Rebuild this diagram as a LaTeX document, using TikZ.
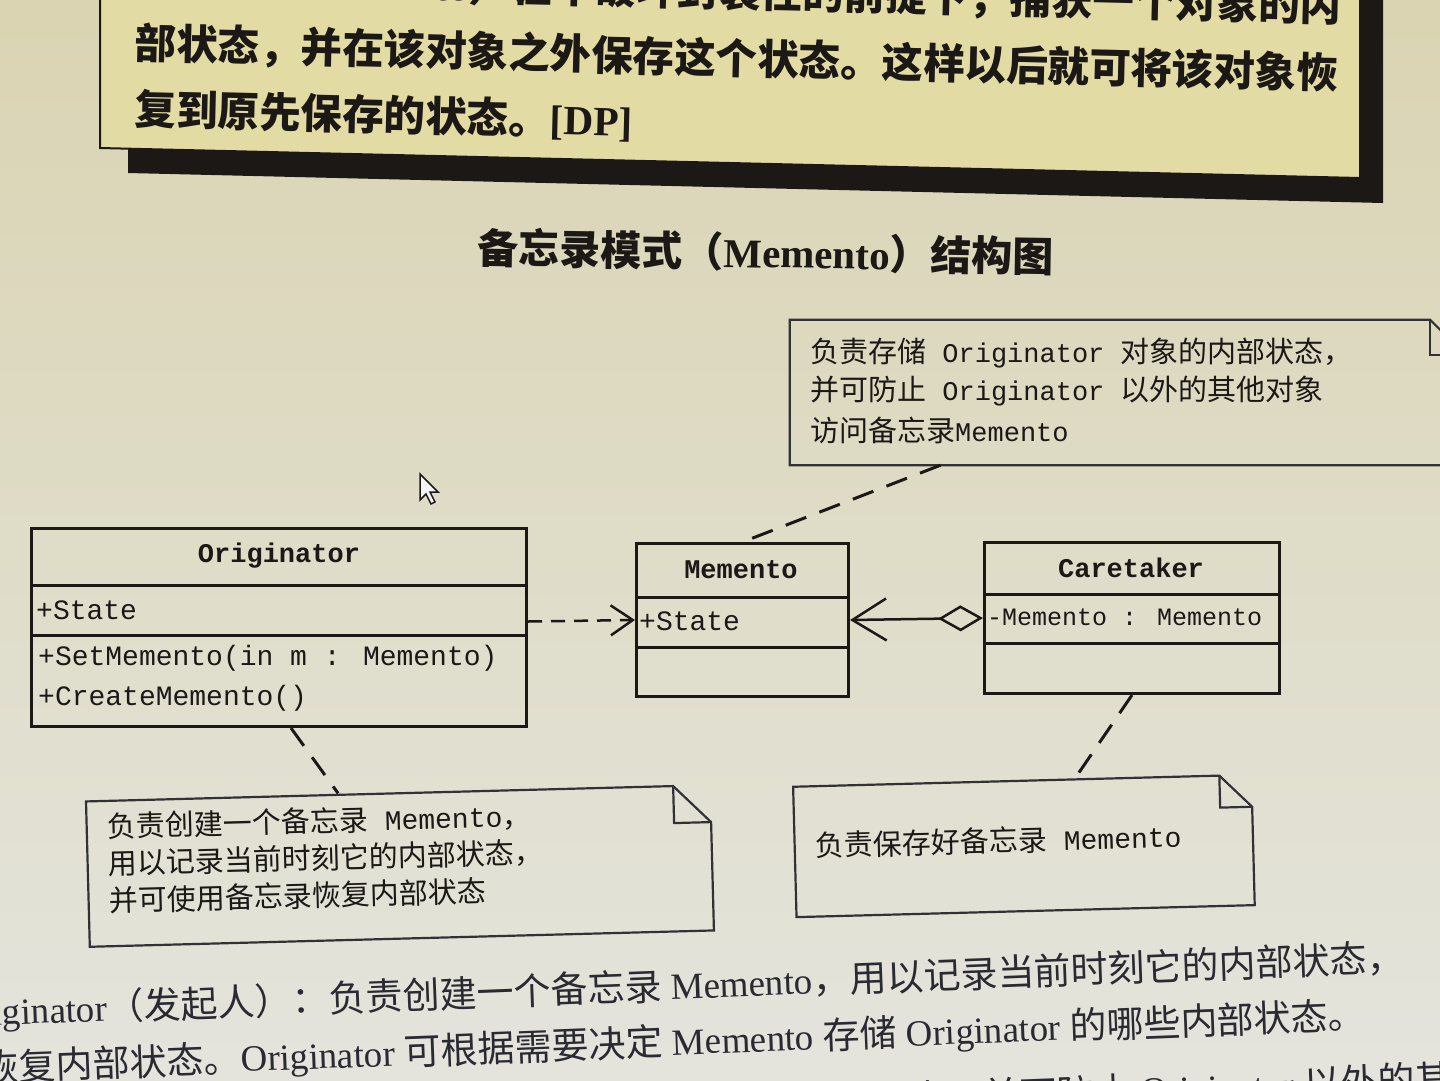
\documentclass[tikz,border=0pt]{standalone}
\usepackage{fontspec}
\setmainfont{Noto Sans CJK SC}
\newfontfamily\um{Liberation Mono}
\newfontfamily\tnr{Liberation Serif}
\usetikzlibrary{arrows.meta}
\definecolor{ink}{RGB}{28,24,22}
\definecolor{bgtop}{RGB}{218,212,178}
\definecolor{bgmid}{RGB}{226,226,210}
\definecolor{bgbot}{RGB}{228,228,221}
\definecolor{boxfill}{RGB}{226,219,164}
\definecolor{noteink}{RGB}{50,50,54}
\definecolor{bodyink}{RGB}{42,42,50}
\newcommand\sz[1]{\fontsize{#1}{#1}\selectfont}
\newcommand\drawnote[2]{%
  \draw[noteline] (#1.north west) -- ([xshift=-#2]#1.north east) -- ([yshift=-#2]#1.north east) -- (#1.south east) -- (#1.south west) -- cycle;
  \draw[noteline] ([xshift=-#2]#1.north east) -- ([xshift=-#2,yshift=-#2]#1.north east) -- ([yshift=-#2]#1.north east);}
\begin{document}
\begin{tikzpicture}[x=1pt,y=-1pt,
  classbox/.style={draw=ink, line width=3pt, inner sep=0pt},
  classline/.style={draw=ink, line width=3pt},
  umltext/.style={inner sep=0pt, text=ink, font=\um\sz{28}},
  umlname/.style={inner sep=0pt, text=ink, font=\um\bfseries\sz{27}},
  notebox/.style={inner sep=0pt},
  noteline/.style={draw=noteink, line width=2.2pt, line join=miter},
  notetext/.style={inner sep=0pt, anchor=west, text=ink, font=\sz{29}},
  notelink/.style={draw=ink, line width=3pt, dash pattern=on 22pt off 14pt},
  deparrow/.style={draw=ink, line width=2.5pt, dash pattern=on 14pt off 9pt, -{Straight Barb[length=22pt,width=30pt]}},
  aggline/.style={draw=ink, line width=2.5pt, {Diamond[open,length=45pt,width=26pt]}-{Straight Barb[length=34pt,width=42pt]}},
  deftext/.style={inner sep=0pt, text=ink, font=\bfseries\sz{41.5}},
  titletext/.style={inner sep=0pt, text=ink, font=\bfseries\sz{41}},
  bodytext/.style={inner sep=0pt, text=bodyink, font=\sz{37}}]
\clip (0,0) rectangle (1440,1080);
\shade[top color=bgtop, middle color=bgmid, bottom color=bgbot] (0,0) rectangle (1440,1080);

% definition box with shadow
\fill[ink] (128,-20) -- (1383,-20) -- (1383,203) -- (128,173) -- cycle;
\filldraw[fill=boxfill, draw=ink, line width=2pt] (100,-20) -- (1360,-20) -- (1360,178) -- (100,148) -- cycle;
\node[deftext, anchor=west, rotate=-1.4] (d1a) at (135,-23) {备忘录（{\tnr\bfseries Memento}）：};
\node[deftext, anchor=east, rotate=-1.4] (d1b) at (1342,7) {在不破坏封装性的前提下，捕获一个对象的内};
\node[deftext, anchor=west, rotate=-1.4] (d2) at (135,44) {部状态，并在该对象之外保存这个状态。这样以后就可将该对象恢};
\node[deftext, anchor=west, rotate=-1.4] (d3) at (135,109) {复到原先保存的状态。{\tnr\bfseries [DP]}};

% title
\node[titletext, rotate=-0.9] (title) at (766,252) {备忘录模式（{\tnr\bfseries Memento}）结构图};

% note 1
\node[notebox, minimum width=675pt, minimum height=145pt] (note1) at (1127.5,392.5) {};
\drawnote{note1}{35pt}
\node[notetext] (n1a) at (810,353) {负责存储{\um\sz{27}\ Originator\ }对象的内部状态，};
\node[notetext] (n1b) at (810,391) {并可防止{\um\sz{27}\ Originator\ }以外的其他对象};
\node[notetext] (n1c) at (810,430) {访问备忘录{\um\sz{27}Memento}};

% Originator class
\node[classbox, minimum width=495pt, minimum height=198pt, anchor=north west] (orig) at (30,527) {};
\draw[classline] ([yshift=-58pt]orig.north west) -- ([yshift=-58pt]orig.north east);
\draw[classline] ([yshift=-108pt]orig.north west) -- ([yshift=-108pt]orig.north east);
\node[umlname] (origname) at (279,556) {Originator};
\node[umltext, anchor=west] (origstate) at (36,610) {+State};
\node[umltext, anchor=west] (origset) at (38,658) {+SetMemento(in m : Memento)};
\node[umltext, anchor=west] (origcreate) at (38,698) {+CreateMemento()};

% Memento class
\node[classbox, minimum width=212pt, minimum height=153pt, anchor=north west] (mem) at (635,542) {};
\draw[classline] ([yshift=-55pt]mem.north west) -- ([yshift=-55pt]mem.north east);
\draw[classline] ([yshift=-105pt]mem.north west) -- ([yshift=-105pt]mem.north east);
\node[umlname] (memname) at (741,570) {Memento};
\node[umltext, anchor=west] (memstate) at (639,621) {+State};

% Caretaker class
\node[classbox, minimum width=295pt, minimum height=151pt, anchor=north west] (care) at (983,541) {};
\draw[classline] ([yshift=-53pt]care.north west) -- ([yshift=-53pt]care.north east);
\draw[classline] ([yshift=-102pt]care.north west) -- ([yshift=-102pt]care.north east);
\node[umlname] (carename) at (1131,568) {Caretaker};
\node[umltext, anchor=west, font=\um\sz{25}] (carememento) at (987,617) {-Memento : Memento};

% note 2
\begin{scope}[rotate around={1.5:(400,866)}, transform shape]
\node[notebox, minimum width=624pt, minimum height=145pt] (note2) at (400,866) {};
\drawnote{note2}{37pt}
\node[notetext] (n2a) at (108,819) {负责创建一个备忘录{\um\sz{28}\ Memento}，};
\node[notetext] (n2b) at (108,856) {用以记录当前时刻它的内部状态，};
\node[notetext] (n2c) at (108,893) {并可使用备忘录恢复内部状态};
\end{scope}

% note 3
\begin{scope}[rotate around={1.5:(1024,846)}, transform shape]
\node[notebox, minimum width=458pt, minimum height=130pt] (note3) at (1024,846) {};
\drawnote{note3}{32pt}
\node[notetext] (n3a) at (815,840) {负责保存好备忘录{\um\sz{28}\ Memento}};
\end{scope}

% connectors
\draw[deparrow] ([yshift=6pt]orig.east) -- (mem.west);
\draw[aggline] (care.west) -- (mem.east);
\draw[notelink] ([xshift=-187pt]note1.south) -- (mem.north);
\draw[notelink] ([xshift=12pt]orig.south) -- ([xshift=-60pt]note2.north);
\draw[notelink] (care.south) -- ([xshift=51pt]note3.north);

% mouse pointer
\filldraw[fill=white!92!gray, draw=ink, line width=1.5pt, line join=miter] (420,474) -- (420,500) -- (426,494) -- (431,504) -- (435,502) -- (430,492) -- (438,492) -- cycle;

% body text
\node[bodytext, anchor=west, rotate=2.2] (b1) at (-47,1015) {{\tnr Originator}（发起人）：负责创建一个备忘录{\tnr\ Memento}，用以记录当前时刻它的内部状态，};
\node[bodytext, anchor=west, rotate=2.2] (b2) at (-18,1070) {恢复内部状态。{\tnr Originator\ }可根据需要决定{\tnr\ Memento\ }存储{\tnr\ Originator\ }的哪些内部状态。};
\node[bodytext, anchor=east, rotate=2.2] (b3) at (1452,1080) {{\tnr Memento}（备忘录）：负责存储{\tnr\ Originator\ }对象的内部状态，并可防止{\tnr\ Originator\ }以外的其};
\end{tikzpicture}
\end{document}
